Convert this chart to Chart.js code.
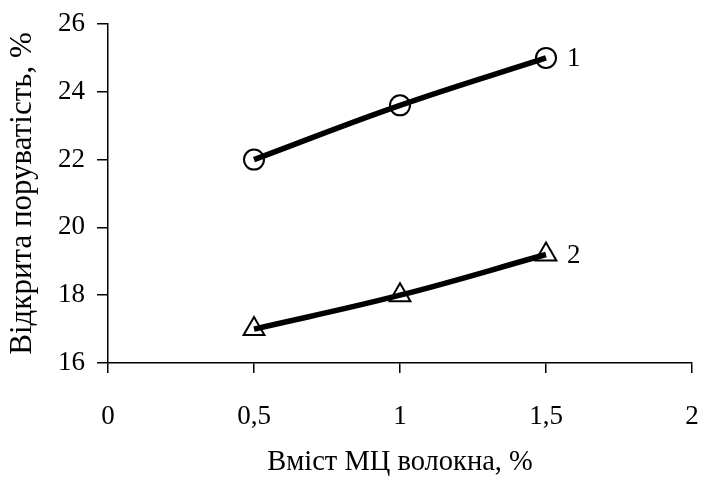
<!DOCTYPE html>
<html>
<head>
<meta charset="utf-8">
<script src="https://cdn.jsdelivr.net/npm/chart.js@4"></script>
<style>
    body { margin: 0; background: white; }
</style>
</head>
<body>
<canvas id="grafico" width="701" height="482"></canvas>
<script>
// datos
var vmist = [0.5, 1, 1.5];
var seriya1 = [22, 23.6, 25];
var seriya2 = [17, 18, 19.2];
var nazvy = ["1", "2"];
var tituloX = "Вміст МЦ волокна, %";
var tituloY = "Відкрита поруватість, %";

var fuente = "'Liberation Serif', 'Times New Roman', serif";

function puntos(ys) {
    var res = [];
    for (var i = 0; i < vmist.length; i++) {
        res.push({ x: vmist[i], y: ys[i] });
    }
    return res;
}

// numeros de serie junto al ultimo punto
const etiquetas = {
    id: 'etiquetas',
    afterDatasetsDraw(chart) {
        const ctx = chart.ctx;
        ctx.save();
        ctx.fillStyle = 'black';
        ctx.font = "27px " + fuente;
        ctx.textAlign = 'left';
        ctx.textBaseline = 'middle';
        chart.data.datasets.forEach(function(ds, i) {
            const meta = chart.getDatasetMeta(i);
            const p = meta.data[meta.data.length - 1];
            ctx.fillText(nazvy[i], p.x + 21, p.y + 1);
        });
        ctx.restore();
    }
};

const data = {
    datasets: [{
        data: puntos(seriya1),
        borderColor: 'black',
        borderWidth: 5.5,
        tension: 0.4,
        pointStyle: 'circle',
        pointRadius: 10,
        pointBorderWidth: 2,
        pointBackgroundColor: 'rgba(0,0,0,0)',
        pointBorderColor: 'black'
    }, {
        data: puntos(seriya2),
        borderColor: 'black',
        borderWidth: 5.5,
        tension: 0.4,
        pointStyle: 'triangle',
        pointRadius: 12,
        pointBorderWidth: 2,
        pointBackgroundColor: 'rgba(0,0,0,0)',
        pointBorderColor: 'black'
    }]
};

const config = {
    type: 'line',
    data: data,
    plugins: [etiquetas],
    options: {
        responsive: false,
        animation: false,
        devicePixelRatio: 1,
        layout: { autoPadding: false, padding: { left: 0, right: 9, top: 24, bottom: 0 } },
        plugins: { legend: { display: false }, tooltip: { enabled: false } },
        scales: {
            x: {
                type: 'linear',
                min: 0,
                max: 2,
                afterFit: function(scale) {
                    scale.height = 119;
                    scale.paddingLeft = 0;
                    scale.paddingRight = 0;
                },
                ticks: {
                    stepSize: 0.5,
                    color: 'black',
                    padding: 28,
                    maxRotation: 0,
                    font: { family: fuente, size: 27 },
                    callback: function(v) { return String(v).replace('.', ','); }
                },
                grid: { drawOnChartArea: false, color: 'black', tickLength: 10, lineWidth: 1.5 },
                border: { color: 'black', width: 1.5 },
                title: {
                    display: true,
                    text: tituloX,
                    color: 'black',
                    font: { family: fuente, size: 28.5 },
                    padding: { top: 0, bottom: 2 }
                }
            },
            y: {
                min: 16,
                max: 26,
                afterFit: function(scale) {
                    scale.width = 108;
                    scale.paddingTop = 0;
                    scale.paddingBottom = 0;
                },
                ticks: {
                    stepSize: 2,
                    color: 'black',
                    padding: 12,
                    font: { family: fuente, size: 27 }
                },
                grid: { drawOnChartArea: false, color: 'black', tickLength: 11, lineWidth: 1.5 },
                border: { color: 'black', width: 1.5 },
                title: {
                    display: true,
                    text: tituloY,
                    color: 'black',
                    font: { family: fuente, size: 31 },
                    padding: { top: 4, bottom: 0 }
                }
            }
        }
    }
};

const grafico = new Chart(document.getElementById('grafico'), config);
</script>
</body>
</html>
